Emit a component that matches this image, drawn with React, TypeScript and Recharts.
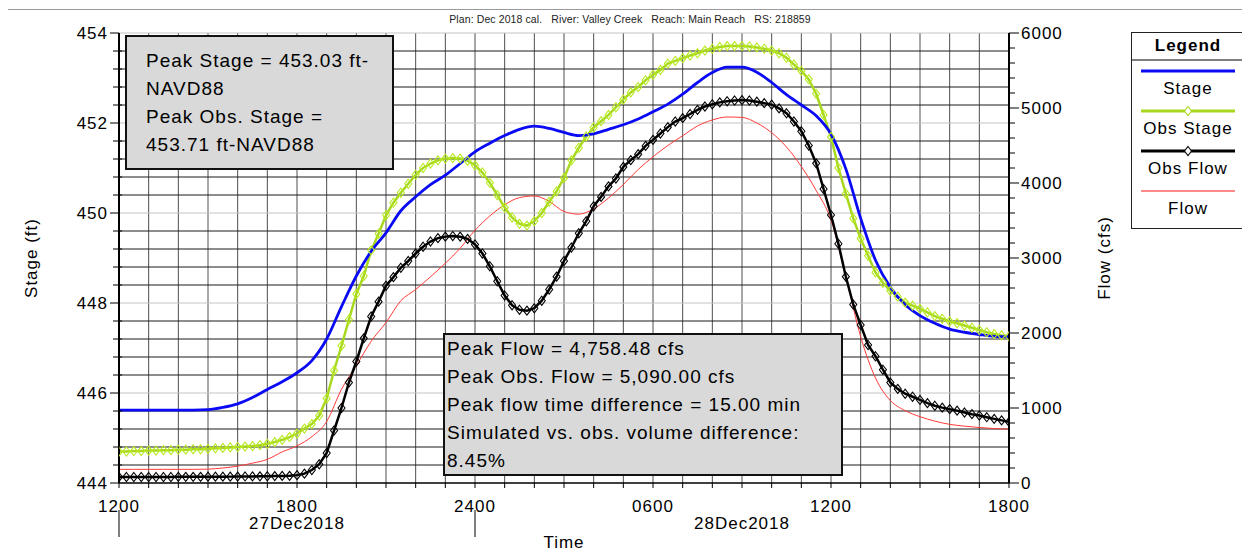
import React from 'react';
import { LineChart, Line, XAxis, YAxis, CartesianGrid } from 'recharts';

// ---------- data ----------
const TITLE = 'Plan: Dec 2018 cal.   River: Valley Creek   Reach: Main Reach   RS: 218859';

// hours since 1200 27Dec2018; simulated series every 30 min, observed every 15 min
const SIM_STEP_H = 0.5;
const OBS_STEP_H = 0.25;

const stageSim = [
  445.62, 445.62, 445.62, 445.62, 445.62, 445.62, 445.63, 445.68, 445.76, 445.9,
  446.08, 446.25, 446.45, 446.72, 447.2, 447.92, 448.6, 449.15, 449.56, 450.05,
  450.36, 450.63, 450.84, 451.1, 451.36, 451.55, 451.72, 451.86, 451.93, 451.88,
  451.79, 451.72, 451.76, 451.86, 451.96, 452.09, 452.25, 452.42, 452.64, 452.9,
  453.12, 453.24, 453.24, 453.13, 452.9, 452.63, 452.4, 452.16, 451.75, 450.98,
  449.88, 448.95, 448.35, 447.96, 447.72, 447.55, 447.42, 447.35, 447.3, 447.26,
  447.25,
];

const flowSim = [
  182, 182, 182, 182, 182, 182, 185, 200, 225, 265,
  315, 415, 495, 618, 820, 1250, 1565, 1890, 2140, 2430,
  2580, 2750, 2930, 3130, 3370, 3560, 3710, 3805, 3827, 3755,
  3620, 3585, 3655, 3800, 3980, 4180, 4350, 4500, 4630, 4760,
  4840, 4880, 4875, 4800, 4670, 4480, 4220, 3900, 3507, 2751,
  1951, 1400, 1100, 965, 884, 825, 782, 758, 740, 726,
  718,
];

const stageObs = [
  444.7, 444.7, 444.71, 444.71, 444.72, 444.72, 444.73, 444.73,
  444.74, 444.74, 444.75, 444.75, 444.76, 444.77, 444.78, 444.79,
  444.8, 444.81, 444.82, 444.84, 444.87, 444.91, 444.96, 445.02,
  445.1, 445.21, 445.31, 445.5, 445.88, 446.5, 447.05, 447.63,
  448.2, 448.6, 449.17, 449.54, 449.95, 450.23, 450.45, 450.65,
  450.85, 451.0, 451.1, 451.17, 451.21, 451.22, 451.21, 451.16,
  451.06, 450.9, 450.67, 450.4, 450.12, 449.9, 449.76, 449.72,
  449.82, 450.0, 450.25, 450.48, 450.78, 451.17, 451.45, 451.7,
  451.9, 452.04, 452.18, 452.35, 452.52, 452.68, 452.8, 452.95,
  453.07, 453.18, 453.32, 453.38, 453.44, 453.5, 453.55, 453.61,
  453.65, 453.69, 453.71, 453.71, 453.71, 453.7, 453.68, 453.65,
  453.61, 453.55, 453.45, 453.3, 453.16, 452.97, 452.65, 452.18,
  451.69, 451.0, 450.43, 449.88, 449.43, 449.05, 448.68, 448.45,
  448.27, 448.14, 448.01, 447.94, 447.87, 447.79, 447.71, 447.65,
  447.59, 447.55, 447.5, 447.45, 447.4, 447.35, 447.31, 447.28,
  447.26,
];

const flowObs = [
  80, 80, 80, 80, 80, 80, 80, 80,
  82, 82, 82, 82, 84, 84, 84, 85,
  86, 87, 88, 89, 90, 92, 94, 96,
  105, 125, 173, 250, 400, 700, 1000, 1340,
  1620, 1929, 2220, 2418, 2630, 2745, 2870, 2960,
  3060, 3150, 3220, 3265, 3285, 3293, 3284, 3255,
  3180, 3060, 2890, 2690, 2500, 2370, 2310, 2298,
  2330, 2430, 2580, 2751, 2960, 3140, 3330, 3490,
  3690, 3815, 3955, 4060, 4215, 4305, 4385, 4495,
  4575, 4660, 4745, 4820, 4865, 4920, 4975, 5020,
  5050, 5075, 5090, 5100, 5105, 5100, 5084, 5065,
  5045, 4995, 4930, 4820, 4690, 4500, 4262, 3920,
  3573, 3190, 2751, 2380, 2107, 1840, 1690, 1510,
  1340, 1255, 1190, 1150, 1107, 1065, 1030, 1005,
  985, 965, 940, 918, 900, 877, 855, 835,
  815,
];

// axis ticks / labels
const xLabelHours = [0, 6, 12, 18, 24, 30];
const xTickLabels = ['1200', '1800', '2400', '0600', '1200', '1800'];
const dateLabelHours = [6, 21];
const dateLabels = ['27Dec2018', '28Dec2018'];
const daySeparatorHours = [0, 12];
const stageLabels = [444, 446, 448, 450, 452, 454];
const flowLabels = [0, 1000, 2000, 3000, 4000, 5000, 6000];

const annotationStage = ['Peak Stage = 453.03 ft-', 'NAVD88', 'Peak Obs. Stage =', '453.71 ft-NAVD88'];
const annotationFlow = [
  'Peak Flow = 4,758.48 cfs',
  'Peak Obs. Flow = 5,090.00 cfs',
  'Peak flow time difference = 15.00 min',
  'Simulated vs. obs. volume difference:',
  '8.45%',
];

// ---------- derived tables ----------
const simData = (vals: number[]) => vals.map((v, i) => ({ h: i * SIM_STEP_H, v }));
const obsData = (vals: number[]) => vals.map((v, i) => ({ h: i * OBS_STEP_H, v }));

const hourTicks: number[] = [];
for (let i = 0; i <= 30; i++) hourTicks.push(i);
const stageTicks: number[] = [];
for (let i = 0; i <= 25; i++) stageTicks.push(Math.round((444 + i * 0.4) * 10) / 10);
const flowTicks: number[] = [];
for (let i = 0; i <= 30; i++) flowTicks.push(i * 200);

const stageMinorGrid = stageTicks.filter((v) => v > 444 && v < 454 && !stageLabels.includes(v));
const stageMajorGrid = stageLabels.filter((v) => v > 444);
const hourGrid = hourTicks.filter((v) => v > 0 && v < 30);

// ---------- styles ----------
const FONT = 'Arial, "Liberation Sans", sans-serif';
const C_STAGE = '#0a0af5';
const C_OBS_STAGE = '#a8d81e';
const C_OBS_FLOW = '#000000';
const C_FLOW = '#ff3a3a';

const series = [
  { name: 'Stage', color: C_STAGE, width: 3, marker: false },
  { name: 'Obs Stage', color: C_OBS_STAGE, width: 3, marker: true },
  { name: 'Obs Flow', color: C_OBS_FLOW, width: 3, marker: true },
  { name: 'Flow', color: '#ff8a8a', width: 2, marker: false },
];

const diamondPath = (cx: number, cy: number) =>
  `M${cx},${cy - 4.5}L${cx + 3.5},${cy}L${cx},${cy + 4.5}L${cx - 3.5},${cy}Z`;

const makeDiamond = (color: string) => (props: any) => {
  const { cx, cy, index } = props;
  if (cx == null || cy == null) return <g key={`d${index}`} />;
  return <path key={`d${index}`} d={diamondPath(cx, cy)} fill="none" stroke={color} strokeWidth={1.1} />;
};

const textStyle = { fontFamily: FONT, fontSize: 17, letterSpacing: 1, fill: '#000' } as const;

const XTick = (props: any) => {
  const { x, y, payload } = props;
  const v = payload.value;
  const li = xLabelHours.indexOf(v);
  const di = dateLabelHours.indexOf(v);
  const sep = daySeparatorHours.includes(v);
  return (
    <g>
      <line x1={x} x2={x} y1={y} y2={y + 5} stroke="#000" strokeWidth={1} />
      {li >= 0 && (
        <text x={x} y={y + 23} textAnchor="middle" dominantBaseline="central" style={textStyle}>
          {xTickLabels[li]}
        </text>
      )}
      {di >= 0 && (
        <text x={x} y={y + 40} textAnchor="middle" dominantBaseline="central" style={textStyle}>
          {dateLabels[di]}
        </text>
      )}
      {sep && <line x1={x} x2={x} y1={y + 27} y2={y + 54} stroke="#000" strokeWidth={1} />}
    </g>
  );
};

const StageTick = (props: any) => {
  const { x, y, payload } = props;
  const v = payload.value;
  const major = stageLabels.includes(v);
  return (
    <g>
      <line x1={major ? x - 9 : x - 6} x2={major ? x : x + 3} y1={y} y2={y} stroke="#000" strokeWidth={1} />
      {major && (
        <text x={x - 11} y={y} textAnchor="end" dominantBaseline="central" style={textStyle}>
          {v}
        </text>
      )}
    </g>
  );
};

const FlowTick = (props: any) => {
  const { x, y, payload } = props;
  const v = payload.value;
  const major = flowLabels.includes(v);
  return (
    <g>
      <line x1={x} x2={x + (major ? 10 : 6)} y1={y} y2={y} stroke="#000" strokeWidth={1} />
      {major && (
        <text x={x + 12} y={y} textAnchor="start" dominantBaseline="central" style={textStyle}>
          {v}
        </text>
      )}
    </g>
  );
};

const Legend = () => (
  <div
    style={{
      position: 'absolute', left: 1123, top: 24, width: 113, height: 197, boxSizing: 'border-box',
      border: '1.5px solid #222', background: '#fff',
    }}
  >
    <svg width={116} height={197} style={{ position: 'absolute', left: -1.5, top: -1.5, overflow: 'visible' }}>
      <text x={57} y={13} textAnchor="middle" dominantBaseline="central"
        style={{ ...textStyle, fontWeight: 'bold' }}>Legend</text>
      <line x1={1} x2={116} y1={28} y2={28} stroke="#000" strokeWidth={1} />
      {series.map((s, i) => {
        const ly = 39 + i * 40;
        return (
          <g key={s.name}>
            <line x1={10} x2={104} y1={ly} y2={ly} stroke={s.color} strokeWidth={s.width} />
            {s.marker && <path d={diamondPath(57, ly)} fill="#fff" stroke={s.name === 'Obs Stage' ? C_OBS_STAGE : '#000'} strokeWidth={1.1} />}
            <text x={57} y={ly + 17} textAnchor="middle" dominantBaseline="central" style={textStyle}>
              {s.name}
            </text>
          </g>
        );
      })}
    </svg>
  </div>
);

const boxStyle = {
  position: 'absolute' as const, boxSizing: 'border-box' as const, background: '#d9d9d9',
  border: '2px solid #111', fontFamily: FONT, fontSize: 19, letterSpacing: 1, lineHeight: '28px',
  color: '#000', whiteSpace: 'nowrap' as const,
};

export default function App() {
  return (
    <div style={{ position: 'relative', width: 1234, height: 540, fontFamily: FONT }}>
      <div
        style={{
          position: 'absolute', left: -1, top: 1, width: 1243, height: 546, boxSizing: 'border-box',
          borderTop: '1px solid #9a9a9a', borderLeft: '1px solid #9a9a9a',
        }}
      />
      <div
        style={{
          position: 'absolute', left: 622, top: 11, transform: 'translate(-50%, -50%)',
          fontSize: 10.5, letterSpacing: 0.1, whiteSpace: 'pre', color: '#222', fontFamily: FONT,
        }}
      >
        {TITLE}
      </div>
      <LineChart width={1234} height={540} margin={{ top: 25, right: 0, bottom: 0, left: 0 }}>
        <CartesianGrid yAxisId="stage" horizontal={false} vertical verticalValues={hourGrid} stroke="#4f4f4f" strokeWidth={1} />
        <CartesianGrid yAxisId="stage" horizontal vertical={false} horizontalValues={stageMinorGrid} stroke="#1a1a1a" strokeWidth={1} />
        <CartesianGrid yAxisId="stage" horizontal vertical={false} horizontalValues={stageMajorGrid} stroke="#c4c4c4" strokeWidth={1} />
        <XAxis
          dataKey="h" type="number" domain={[0, 30]} ticks={hourTicks} interval={0} height={65}
          tick={<XTick />} tickLine={false} tickSize={0} tickMargin={0}
          axisLine={{ stroke: '#000', strokeWidth: 1.5 }} allowDataOverflow
        />
        <YAxis
          yAxisId="stage" orientation="left" type="number" domain={[444, 454]} ticks={stageTicks}
          interval={0} width={111} tick={<StageTick />} tickLine={false} tickSize={0} tickMargin={0}
          axisLine={{ stroke: '#000', strokeWidth: 2 }} allowDataOverflow
        />
        <YAxis
          yAxisId="flow" orientation="right" type="number" domain={[0, 6000]} ticks={flowTicks}
          interval={0} width={233} tick={<FlowTick />} tickLine={false} tickSize={0} tickMargin={0}
          axisLine={{ stroke: '#000', strokeWidth: 2 }} allowDataOverflow
        />
        <Line yAxisId="flow" data={simData(flowSim)} dataKey="v" type="monotone" stroke={C_FLOW}
          strokeWidth={1} dot={false} activeDot={false} isAnimationActive={false} name="Flow" />
        <Line yAxisId="flow" data={obsData(flowObs)} dataKey="v" type="linear" stroke={C_OBS_FLOW}
          strokeWidth={2.5} dot={makeDiamond('#000')} activeDot={false} isAnimationActive={false} name="Obs Flow" />
        <Line yAxisId="stage" data={obsData(stageObs)} dataKey="v" type="linear" stroke={C_OBS_STAGE}
          strokeWidth={2.5} dot={makeDiamond('#b8ea20')} activeDot={false} isAnimationActive={false} name="Obs Stage" />
        <Line yAxisId="stage" data={simData(stageSim)} dataKey="v" type="monotone" stroke={C_STAGE}
          strokeWidth={2.8} dot={false} activeDot={false} isAnimationActive={false} name="Stage" />
      </LineChart>

      <div style={{ position: 'absolute', left: 24, top: 250, transform: 'translate(-50%, -50%) rotate(-90deg)', fontSize: 17, letterSpacing: 1, whiteSpace: 'nowrap' }}>
        Stage (ft)
      </div>
      <div style={{ position: 'absolute', left: 1097, top: 250, transform: 'translate(-50%, -50%) rotate(-90deg)', fontSize: 17, letterSpacing: 1, whiteSpace: 'nowrap' }}>
        Flow (cfs)
      </div>
      <div style={{ position: 'absolute', left: 556, top: 535, transform: 'translate(-50%, -50%)', fontSize: 17, letterSpacing: 1, whiteSpace: 'nowrap' }}>
        Time
      </div>

      <div style={{ ...boxStyle, left: 117, top: 27, width: 269, height: 135, padding: '10px 0 0 19px' }}>
        {annotationStage.map((t) => (
          <div key={t}>{t}</div>
        ))}
      </div>
      <div style={{ ...boxStyle, left: 435, top: 325, width: 400, height: 143, padding: '0 0 0 2px' }}>
        {annotationFlow.map((t) => (
          <div key={t}>{t}</div>
        ))}
      </div>
      <Legend />
    </div>
  );
}
